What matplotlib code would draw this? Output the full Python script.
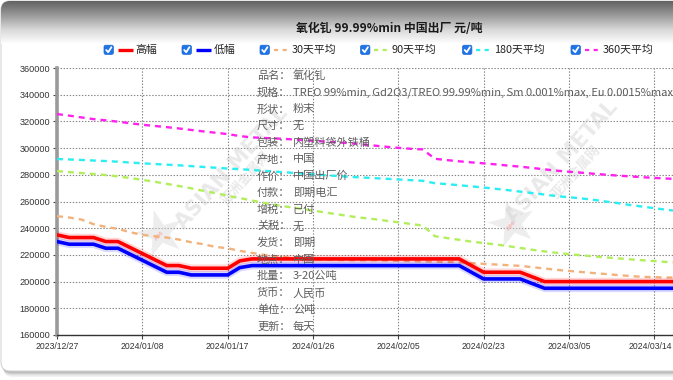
import matplotlib
matplotlib.use('Agg')
import matplotlib.pyplot as plt
import numpy as np
from matplotlib.patches import FancyBboxPatch
from matplotlib.colors import LinearSegmentedColormap
import matplotlib.patheffects as pe
import matplotlib.transforms as mtransforms

plt.rcParams['font.family'] = ['Noto Sans CJK SC', 'DejaVu Sans']
plt.rcParams['lines.scale_dashes'] = False

# ---------------- data ----------------
dates = ['2023/12/27', '2023/12/28', '2023/12/29', '2024/01/02', '2024/01/03', '2024/01/04', '2024/01/05',
         '2024/01/08', '2024/01/09', '2024/01/10', '2024/01/11', '2024/01/12', '2024/01/15', '2024/01/16',
         '2024/01/17', '2024/01/18', '2024/01/19', '2024/01/22', '2024/01/23', '2024/01/24', '2024/01/25',
         '2024/01/26', '2024/01/29', '2024/01/30', '2024/01/31', '2024/02/01', '2024/02/02', '2024/02/04',
         '2024/02/05', '2024/02/06', '2024/02/07', '2024/02/19', '2024/02/20', '2024/02/21', '2024/02/22',
         '2024/02/23', '2024/02/26', '2024/02/27', '2024/02/28', '2024/02/29', '2024/03/01', '2024/03/04',
         '2024/03/05', '2024/03/06', '2024/03/07', '2024/03/08', '2024/03/11', '2024/03/12', '2024/03/13',
         '2024/03/14', '2024/03/15', '2024/03/18']

high = [235000, 233000, 233000, 233000, 230000, 230000, 225500, 221000, 216500, 212000,
        212000, 210000, 210000, 210000, 210000, 215500, 217000, 217000, 217000, 217000,
        217000, 217000, 217000, 217000, 217000, 217000, 217000, 217000, 217000, 217000,
        217000, 217000, 217000, 217000, 212000, 207000, 207000, 207000, 207000, 203500,
        200000, 200000, 200000, 200000, 200000, 200000, 200000, 200000, 200000, 200000,
        200000, 200000]

low = [230000, 228000, 228000, 228000, 225000, 225000, 220500, 216000, 211500, 207000,
       207000, 205000, 205000, 205000, 205000, 210500, 212000, 212000, 212000, 212000,
       212000, 212000, 212000, 212000, 212000, 212000, 212000, 212000, 212000, 212000,
       212000, 212000, 212000, 212000, 207000, 202000, 202000, 202000, 202000, 198500,
       195000, 195000, 195000, 195000, 195000, 195000, 195000, 195000, 195000, 195000,
       195000, 195000]

ma30 = [249000, 248000, 246500, 243000, 241000, 239500, 237000, 235000, 234000, 233000,
        231500, 229500, 228000, 226000, 225000, 223000, 221500, 220000, 219000, 218000,
        217000, 216500, 216500, 216200, 216000, 216000, 216000, 215800, 215600, 215400,
        215200, 215000, 214800, 214500, 213800, 213300, 212800, 212300, 211800, 210800,
        209800, 208800, 208000, 207200, 206400, 205700, 204900, 204200, 203600, 203300,
        203100, 203000]

ma90 = [282800, 282000, 281300, 280600, 279800, 278800, 277600, 276200, 274800, 273200,
        271600, 269900, 268000, 266300, 264300, 262600, 260700, 258900, 257300, 255900,
        254500, 253200, 251800, 250400, 249000, 247800, 246800, 245600, 244400, 243200,
        242000, 234000, 232600, 231300, 229900, 228900, 227800, 226600, 225200, 223800,
        222600, 221500, 220600, 219700, 218900, 218100, 217400, 216700, 216000, 215400,
        214700, 214200]

ma180 = [291800, 291500, 291100, 290700, 290300, 289800, 289200, 288600, 288100, 287600,
         287100, 286500, 285900, 285300, 284700, 284200, 283600, 283000, 282300, 281700,
         281000, 280300, 279700, 279100, 278500, 278000, 277500, 277000, 276500, 276000,
         275500, 273700, 273000, 272200, 271300, 270500, 269500, 268500, 267400, 266300,
         265200, 264000, 263200, 262300, 261300, 260000, 258800, 257400, 256200, 255000,
         253800, 252800]

ma360 = [325500, 324300, 323000, 321700, 320800, 319800, 318600, 317500, 316600, 315700,
         314700, 313600, 312500, 311500, 310500, 309000, 308000, 307600, 307200, 306700,
         306100, 305500, 304900, 304300, 303700, 302800, 301900, 301000, 300200, 299500,
         299000, 292000, 291000, 290100, 289300, 288600, 287800, 286900, 286100, 285100,
         284100, 283100, 282300, 281600, 280800, 280100, 279400, 278800, 278200, 277700,
         277200, 276800]

series_names = ['高幅', '低幅', '30天平均', '90天平均', '180天平均', '360天平均']
series_colors = ['#ff0000', '#0000ff', '#f2b27c', '#b2ee5c', '#2aeef2', '#ff22ee']

title = '氧化钆 99.99%min 中国出厂 元/吨'
info_labels = ['品名：', '规格：', '形状：', '尺寸：', '包装：', '产地：', '作价：', '付款：',
               '增税：', '关税：', '发货：', '地点：', '批量：', '货币：', '单位：', '更新：']
info_values = ['氧化钆', 'TREO 99%min, Gd2O3/TREO 99.99%min, Sm 0.001%max, Eu 0.0015%max',
               '粉末', '无', '内塑料袋外铁桶', '中国', '中国出厂价', '即期电汇', '已付', '无',
               '即期', '中国', '3-20公吨', '人民币', '公吨', '每天']

yticks = [160000, 180000, 200000, 220000, 240000, 260000, 280000, 300000, 320000, 340000, 360000]

# ---------------- figure ----------------
W, H = 673, 380
fig = plt.figure(figsize=(W / 100, H / 100), dpi=100)
bg = fig.add_axes([0, 0, 1, 1], zorder=0)
bg.set_xlim(0, W)
bg.set_ylim(H, 0)
bg.axis('off')

# panel with shadow
for off, a in [(6, 0.05), (4.5, 0.07), (3, 0.09), (1.5, 0.12)]:
    bg.add_patch(FancyBboxPatch((1 + off * 0.4, 1 + off), W + 40, 370,
                                boxstyle='round,pad=0,rounding_size=9',
                                fc='black', ec='none', alpha=a))
box = FancyBboxPatch((1, 1), W + 40, 370, boxstyle='round,pad=0,rounding_size=9',
                     fc='white', ec='#d5d5d5', lw=0.8)
bg.add_patch(box)
cmap = LinearSegmentedColormap.from_list('hdr', ['#626262', '#9a9a9a', '#d8d8d8', '#ffffff'])
grad = np.linspace(0, 1, 200).reshape(-1, 1)
im = bg.imshow(grad, cmap=cmap, extent=[1, W + 41, 44, 1], aspect='auto', zorder=1)
im.set_clip_path(box)
bg.set_xlim(0, W)
bg.set_ylim(H, 0)

# title
bg.text(389, 28, title, ha='center', va='center', fontsize=8.6, fontweight='bold', color='#1a1a1a', zorder=3)

# legend (custom, checkbox style)
cb_x = [104, 182, 260, 360.5, 462.5, 571]
ly = 49.8
for i, (name, col) in enumerate(zip(series_names, series_colors)):
    x0 = cb_x[i]
    bg.add_patch(FancyBboxPatch((x0, ly - 4.6), 9.4, 9.2, boxstyle='round,pad=0,rounding_size=1.8',
                                fc='#1f74e8', ec='#1a66d0', lw=0.5, zorder=3))
    bg.plot([x0 + 2.2, x0 + 4.2, x0 + 7.4], [ly + 0.2, ly + 2.4, ly - 2.6], color='white', lw=1.3,
            solid_capstyle='round', solid_joinstyle='round', zorder=4)
    if i < 2:
        bg.plot([x0 + 13.5, x0 + 28.5], [ly, ly], color=col, lw=2.4, solid_capstyle='butt', zorder=3)
    else:
        bg.plot([x0 + 13.5, x0 + 28.5], [ly, ly], color=col, lw=1.6, dashes=(3, 3.2), zorder=3)
    bg.text(x0 + 31.5, ly, name, ha='left', va='center', fontsize=7.8, color='#222222', zorder=3)

# main axes
px_per_idx = (654.3 - 57) / 49.0
ax_left, ax_right, ax_top, ax_bot = 57, 700, 68, 335
ax = fig.add_axes([ax_left / W, (H - ax_bot) / H, (ax_right - ax_left) / W, (ax_bot - ax_top) / H], zorder=2)
ax.patch.set_alpha(0)
x = np.arange(len(dates))

for vals, col in [(ma360, series_colors[5]), (ma180, series_colors[4]), (ma90, series_colors[3]),
                  (ma30, series_colors[2])]:
    ax.plot(x, vals, color=col, lw=1.7, dashes=(4.3, 3.6), zorder=3)
for vals, col in [(high, series_colors[0]), (low, series_colors[1])]:
    ax.plot(x, vals, color=col, lw=2.6, zorder=4, solid_joinstyle='round',
            path_effects=[pe.Stroke(linewidth=5.5, foreground=col, alpha=0.15), pe.Normal()])

ax.set_xlim(0, (ax_right - ax_left) / px_per_idx)
ax.set_ylim(160000, 360000)
ax.set_yticks(yticks)
ax.set_yticklabels([str(v) for v in yticks], fontsize=6.6, family='Liberation Sans', color='#333333')
xt = list(range(0, len(dates), 7))
ax.set_xticks(xt)
ax.set_xticklabels([dates[i] for i in xt], fontsize=6.2, family='Liberation Sans', color='#333333')
ax.tick_params(axis='both', length=3, width=0.8, color='#444444', pad=2)
ax.tick_params(axis='x', pad=1.8)
# keep the last date label inside the picture
last = ax.get_xticklabels()[-1]
last.set_transform(last.get_transform() + mtransforms.ScaledTranslation(-4 / 100, 0, fig.dpi_scale_trans))
ax.grid(True, color='#858585', linestyle=(0, (1, 1.2)), linewidth=0.8, zorder=0)
ax.set_axisbelow(True)
for s in ['top', 'right']:
    ax.spines[s].set_visible(False)
ax.spines['left'].set_color('#9a9a9a')
ax.spines['left'].set_linewidth(2.6)
ax.spines['bottom'].set_color('#333333')
ax.spines['bottom'].set_linewidth(1.0)

# watermarks
for (cx, cy), (sx, sy) in [((232, 168), (160, 236)), ((562, 162), (512, 226))]:
    ax.text(sx, sy, '★', transform=bg.transData, fontsize=44, color='#d8d8d8', alpha=0.45,
            ha='center', va='center', rotation=15, family='DejaVu Sans', zorder=1.5)
    ax.text(sx, sy, 'AM', transform=bg.transData, fontsize=4.5, color='#ff8888', alpha=0.5,
            ha='center', va='center', rotation=48, fontweight='bold', family='DejaVu Sans', zorder=1.6)
    ax.text(cx, cy, 'ASIAN METAL', transform=bg.transData, fontsize=15, color='#cfcfcf', alpha=0.45,
            ha='center', va='center', rotation=48, fontweight='bold', family='DejaVu Sans', zorder=1.5)
    ax.text(cx + 14, cy + 10, '亚洲金属网', transform=bg.transData, fontsize=9.5, color='#cfcfcf', alpha=0.45,
            ha='center', va='center', rotation=48, fontweight='bold', zorder=1.5)

# info block
for i, (lab, val) in enumerate(zip(info_labels, info_values)):
    yy = 75.7 + i * 16.73
    ax.text(257, yy, lab, transform=bg.transData, fontsize=8.0, color='#5e5e5e', ha='left', va='center',
            zorder=10, clip_on=False)
    ax.text(293, yy, val, transform=bg.transData, fontsize=8.0, color='#5e5e5e', ha='left', va='center',
            zorder=10, clip_on=False)

fig.savefig('out.png', dpi=100)
